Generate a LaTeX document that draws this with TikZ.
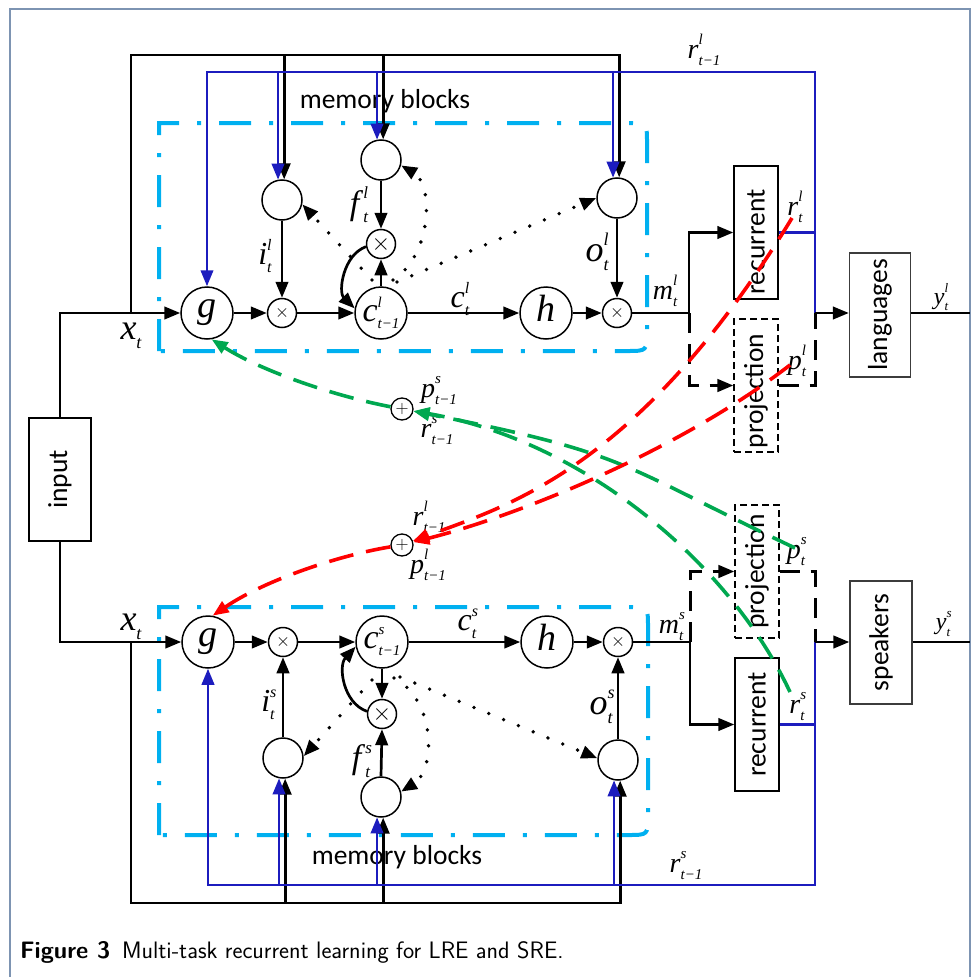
\RequirePackage{fix-cm}
\documentclass[tikz,border=0pt]{standalone}
\usepackage{fontspec}
\usepackage{graphicx}
\newfontfamily\boxfont{Carlito}
\newfontfamily\tms{Liberation Serif}
\usetikzlibrary{arrows.meta}
\newcommand\lsc{16}
\newcommand\lab[3]{{\tms\itshape #1\/}{\fontsize{\lsc}{\lsc}\selectfont\tms\itshape\rlap{\raisebox{0.9em}{#2}}\raisebox{-0.5em}{#3}}}
\definecolor{lineblue}{RGB}{28,28,190}
\definecolor{boxcyan}{RGB}{0,176,240}
\definecolor{gdash}{RGB}{0,168,80}
\definecolor{rdash}{RGB}{255,0,0}
\definecolor{framec}{RGB}{125,148,178}
\definecolor{boxgray}{RGB}{60,60,60}
\begin{document}
\begin{tikzpicture}[x=1pt,y=-1pt,
  blk/.style={line width=2.7pt,black},
  blu/.style={line width=2.4pt,lineblue},
  arr/.style={-{Triangle[length=16pt,width=12.5pt]}},
  bigc/.style={circle,draw,line width=1.5pt,minimum size=52pt,inner sep=0pt},
  gatec/.style={circle,draw,line width=1.5pt,minimum size=40pt,inner sep=0pt},
  multc/.style={circle,draw,line width=1.5pt,minimum size=29pt,inner sep=0pt,font=\fontsize{18}{18}\selectfont},
  plusc/.style={circle,draw,line width=1.3pt,minimum size=22pt,inner sep=0pt,font=\fontsize{18}{18}\selectfont},
  tbox/.style={draw,line width=1.4pt,inner sep=0pt,font=\boxfont\fontsize{27.5}{28}\selectfont},
  ddash/.style={boxcyan,line width=4pt,dash pattern=on 32pt off 18pt on 4pt off 18pt},
  bdash/.style={line width=3pt,dash pattern=on 20pt off 11pt},
  pdash/.style={line width=1.3pt,dash pattern=on 7pt off 4pt},
  dotl/.style={line width=3.8pt,dash pattern=on 0pt off 16pt,line cap=round},
  gcur/.style={gdash,line width=3.6pt,dash pattern=on 25pt off 13pt},
  rcur/.style={rdash,line width=3.6pt,dash pattern=on 25pt off 13pt},
  L38/.style={inner sep=0pt,font=\fontsize{38}{38}\selectfont\def\lsc{18}},
  L36/.style={inner sep=0pt,font=\fontsize{36}{36}\selectfont\def\lsc{18}},
  L34/.style={inner sep=0pt,font=\fontsize{34}{34}\selectfont\def\lsc{17}},
  L32/.style={inner sep=0pt,font=\fontsize{32}{32}\selectfont\def\lsc{16}},
  L28/.style={inner sep=0pt,font=\fontsize{28}{28}\selectfont\def\lsc{15}},
  L24/.style={inner sep=0pt,font=\fontsize{24}{24}\selectfont\def\lsc{13}},
  Lc/.style={inner sep=0pt,font=\fontsize{34}{34}\selectfont\def\lsc{15}},
  mb/.style={inner sep=0pt,font=\boxfont\fontsize{27.5}{28}\selectfont},
]
\useasboundingbox (0,0) rectangle (972,977);
% frame
\draw[framec,line width=1.3pt] (10,977) -- (10,9) -- (970,9) -- (970,977);

% ---------- dash-dot memory block frames
\draw[ddash] (159,351) -- (159,123) -- (627,123) .. controls (647,123) .. (647,143) -- (647,331) .. controls (647,351) .. (627,351) -- cycle;
\draw[ddash] (159,835) -- (159,607) -- (628,607) .. controls (648,607) .. (648,627) -- (648,815) .. controls (648,835) .. (628,835) -- cycle;
\node[mb] (mem1) at (385,101) {memory blocks};
\node[mb] (mem2) at (397,857) {memory blocks};

% ---------- boxes
\node[tbox,minimum width=62pt,minimum height=123pt] (inp) at (60,479.5) {\rotatebox{90}{input}};
\node[tbox,fill=white,minimum width=44pt,minimum height=133pt] (rec1) at (756,232.5) {\rotatebox{90}{recurrent\hspace{19pt}}};
\node[tbox,pdash,minimum width=44pt,minimum height=133pt] (proj1) at (756,385.5) {\rotatebox{90}{projection\hspace{11pt}}};
\node[tbox,pdash,minimum width=44pt,minimum height=133pt] (proj2) at (757,571.5) {\rotatebox{90}{projection}};
\node[tbox,fill=white,minimum width=44pt,minimum height=133pt] (rec2) at (757,724.5) {\rotatebox{90}{recurrent}};
\node[tbox,draw=boxgray,minimum width=61pt,minimum height=124pt] (lang) at (880,315) {\rotatebox{90}{languages}};
\node[tbox,draw=boxgray,minimum width=62pt,minimum height=123pt] (spk) at (881,642.5) {\rotatebox{90}{speakers}};

% ---------- upper cell
\node[bigc,L38] (g1) at (207,313) {\lab{g}{}{}};
\node[multc] (mx1) at (282,313) {$\times$};
\node[bigc,Lc] (c1) at (381,313) {\lab{c}{l}{t−1}};
\node[bigc,L38] (h1) at (546,313) {\lab{h}{}{}};
\node[multc] (mo1) at (617,313) {$\times$};
\node[gatec] (ig1) at (282,200) {};
\node[gatec] (fg1) at (381,160) {};
\node[multc,font=\fontsize{24}{24}\selectfont] (fx1) at (381,244) {$\times$};
\node[gatec] (og1) at (617,198) {};

% ---------- lower cell
\node[bigc,L38] (g2) at (208,642) {\lab{g}{}{}};
\node[multc] (mx2) at (283,642) {$\times$};
\node[bigc,Lc] (c2) at (382,642) {\lab{c}{s}{t−1}};
\node[bigc,L38] (h2) at (547,642) {\lab{h}{}{}};
\node[multc] (mo2) at (618,642) {$\times$};
\node[gatec] (ig2) at (283,758) {};
\node[gatec] (fg2) at (381,797) {};
\node[multc,font=\fontsize{24}{24}\selectfont] (fx2) at (382,714) {$\times$};
\node[gatec] (og2) at (618,760) {};

% ---------- summing nodes
\node[plusc] (op1) at (402,409) {$+$};
\node[plusc] (op2) at (402,545) {$+$};

% ---------- coordinates
\coordinate (xt1) at (131,313);
\coordinate (tb1) at (131,55);
\coordinate (xt2) at (131,642);
\coordinate (tb2) at (131,903);
\coordinate (j1) at (815,313);
\coordinate (bb1) at (815,72);
\coordinate (j2) at (815,642);
\coordinate (bb2) at (815,885);
\coordinate (sp1) at (689,313);
\coordinate (sp2) at (690,642);
\coordinate (out1) at (970,313);
\coordinate (out2) at (970,642);

% ---------- black buses
\draw[blk,arr] (inp.north) |- (g1.west);
\draw[blk,arr] (inp.south) |- (g2.west);
\draw[blk,arr] (xt1) -- (tb1) -| (og1.84);
\draw[blk,arr] (ig1.84 |- tb1) -- (ig1.84);
\draw[blk,arr] (fg1.84 |- tb1) -- (fg1.84);
\draw[blk,arr] (xt2) -- (tb2) -| (og2.-84);
\draw[blk,arr] (ig2.-84 |- tb2) -- (ig2.-84);
\draw[blk,arr] (fg2.-84 |- tb2) -- (fg2.-84);

% ---------- blue recurrent buses
\draw[blu,arr] (j1) -- (bb1) -| (g1.north);
\draw[blu,arr] (ig1.101 |- bb1) -- (ig1.101);
\draw[blu,arr] (fg1.101 |- bb1) -- (fg1.101);
\draw[blu,arr] (og1.101 |- bb1) -- (og1.101);
\draw[blu] (rec1.east) -- (rec1.east -| j1);
\draw[blu,arr] (j2) -- (bb2) -| (g2.south);
\draw[blu,arr] (ig2.-101 |- bb2) -- (ig2.-101);
\draw[blu,arr] (fg2.-101 |- bb2) -- (fg2.-101);
\draw[blu,arr] (og2.-101 |- bb2) -- (og2.-101);
\draw[blu] (rec2.east) -- (rec2.east -| j2);

% ---------- upper cell flow
\draw[blk,arr] (g1.east) -- (mx1.west);
\draw[blk,arr] (mx1.east) -- (c1.west);
\draw[blk,arr] (c1.east) -- (h1.west);
\draw[blk,arr] (h1.east) -- (mo1.west);
\draw[blk,arr] (ig1.south) -- (mx1.north);
\draw[blk,arr] (fg1.south) -- (fx1.north);
\draw[blk,arr] (c1.north) -- (fx1.south);
\draw[blk,arr] (og1.south) -- (mo1.north);
\draw[blk,arr] (fx1.190) .. controls (343,255) and (338,292) .. (c1.170);
\draw[blk,arr] (mo1.east) -- (sp1) |- (rec1.west);
\draw[bdash,arr] (sp1) |- (proj1.west);
\draw[bdash] (proj1.east) -| (j1);
\draw[blk,arr] (j1) -- (j1 -| lang.west);
\draw[blk] (j1 -| lang.east) -- (out1);

% ---------- lower cell flow
\draw[blk,arr] (g2.east) -- (mx2.west);
\draw[blk,arr] (mx2.east) -- (c2.west);
\draw[blk,arr] (c2.east) -- (h2.west);
\draw[blk,arr] (h2.east) -- (mo2.west);
\draw[blk,arr] (ig2.north) -- (mx2.south);
\draw[blk,arr] (fg2.north) -- (fx2.south);
\draw[blk,arr] (c2.south) -- (fx2.north);
\draw[blk,arr] (og2.north) -- (mo2.south);
\draw[blk,arr] (fx2.170) .. controls (343,703) and (338,666) .. (c2.190);
\draw[blk,arr] (mo2.east) -- (sp2) |- (rec2.west);
\draw[bdash,arr] (sp2) |- (proj2.west);
\draw[bdash] (proj2.east) -| (j2);
\draw[blk,arr] (j2) -- (j2 -| spk.west);
\draw[blk] (j2 -| spk.east) -- (out2);

% ---------- peephole (dotted)
\coordinate (pi1) at (372,280);
\coordinate (pf1) at (393,280);
\coordinate (po1) at (397,282);
\draw[dotl,arr] (pi1) -- (ig1.-12);
\draw[dotl,arr] (pf1) .. controls (432,255) and (434,185) .. (fg1.-15);
\draw[dotl,arr] (po1) -- (og1.180);
\coordinate (pi2) at (372,680);
\coordinate (pf2) at (394,678);
\coordinate (po2) at (400,677);
\draw[dotl,arr] (pi2) -- (ig2.5);
\draw[dotl,arr] (pf2) .. controls (436,700) and (436,770) .. (fg2.15);
\draw[dotl,arr] (po2) -- (og2.175);

% ---------- labels
\node[L36] (lx1) at (131,336) {\lab{x}{}{t}};
\node[L32] (li1) at (265,256) {\lab{i}{l}{t}};
\node[L34] (lf1) at (359,205) {\lab{f}{l}{t}};
\node[L32] (lc1) at (460,299) {\lab{c}{l}{t}};
\node[L36] (lo1) at (597,252) {\lab{o}{l}{t}};
\node[L28] (lm1) at (665,291) {\lab{m}{l}{t}};
\node[L28] (lr1) at (704,50) {\lab{r}{l}{t−1}};
\node[L28] (lrt1) at (795,207) {\lab{r}{l}{t}};
\node[L28] (lpt1) at (797,361) {\lab{p}{l}{t}};
\node[L24] (ly1) at (941,297) {\lab{y}{l}{t}};
\node[L36] (lx2) at (131,627) {\lab{x}{}{t}};
\node[L32] (li2) at (268,705) {\lab{i}{s}{t}};
\node[L34] (lf2) at (361,761) {\lab{f}{s}{t}};
\node[L32] (lc2) at (467,624) {\lab{c}{s}{t}};
\node[L36] (lo2) at (601,707) {\lab{o}{s}{t}};
\node[L28] (lm2) at (671,627) {\lab{m}{s}{t}};
\node[L28] (lr2) at (686,866) {\lab{r}{s}{t−1}};
\node[L28] (lrt2) at (797,707) {\lab{r}{s}{t}};
\node[L28] (lpt2) at (796,552) {\lab{p}{s}{t}};
\node[L24] (ly2) at (943,624) {\lab{y}{s}{t}};
\node[L28] (lq1) at (439,391) {\lab{p}{s}{t−1}};
\node[L28] (lq2) at (437,431) {\lab{r}{s}{t−1}};
\node[L28] (lq3) at (429,517) {\lab{r}{l}{t−1}};
\node[L28] (lq4) at (428,565) {\lab{p}{l}{t−1}};

% ---------- cross-task connections
\coordinate (gA) at (795,548);
\coordinate (gB) at (790,692);
\coordinate (rC) at (792,218);
\coordinate (rD) at (790,365);
\draw[gcur,arr] (gA) .. controls (619,465) and (632,454) .. (op1);
\draw[gcur,arr] (gB) .. controls (730,564) and (585,441) .. (op1);
\draw[gcur,arr] (op1) .. controls (330,395) and (260,370) .. (g1.-80);
\draw[rcur,arr] (rC) .. controls (639,469) and (507,506) .. (op2);
\draw[rcur,arr] (rD) .. controls (680,450) and (520,515) .. (op2);
\draw[rcur,arr] (op2) .. controls (340,555) and (265,580) .. (g2.80);

% ---------- caption
\node[anchor=base west,inner sep=0pt,font=\sffamily\fontsize{23.8}{24}\selectfont] (cap) at (20,958) {\textbf{Figure 3}\hspace{0.5em}Multi-task recurrent learning for LRE and SRE.};
\end{tikzpicture}
\end{document}
